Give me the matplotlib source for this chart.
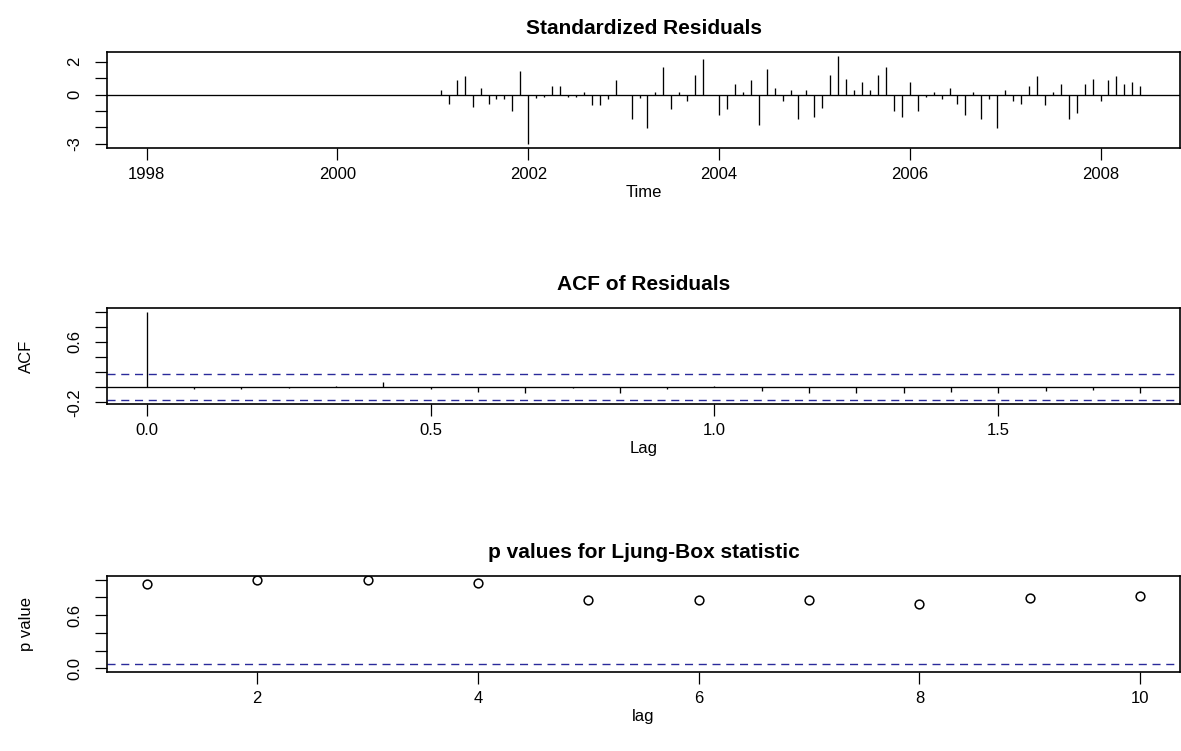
import numpy as np
import matplotlib
matplotlib.use('Agg')
import matplotlib.pyplot as plt

plt.rcParams['font.family'] = ['Liberation Sans', 'DejaVu Sans']

# monthly series Jan 1998 .. Jun 2008, residuals observed from Feb 2001
series_start = 1998.0
series_end = 2008 + 5 / 12
resid_start = 2001 + 1 / 12
resid = [0.26, -0.55, 0.87, 1.11, -0.77, 0.38, -0.55, -0.3, -0.3, -1.0,
         1.45, -3.05, -0.2, -0.16, 0.5, 0.5, -0.16, -0.16, 0.16, -0.67,
         -0.67, -0.3, 0.87, 0.0, -1.47, -0.2, -2.06, 0.16, 1.68, -0.9,
         0.16, -0.4, 1.21, 2.16, 0.0, -1.25, -0.9, 0.65, 0.16, 0.87,
         -1.84, 1.58, 0.38, -0.4, 0.26, -1.47, 0.26, -1.37, -0.8, 1.21,
         2.38, 0.97, 0.26, 0.75, 0.26, 1.21, 1.68, -1.0, -1.35, 0.75,
         -1.0, -0.16, 0.16, -0.3, 0.38, -0.55, -1.25, 0.16, -1.47, -0.3,
         -2.06, 0.26, -0.4, -0.55, 0.5, 1.11, -0.67, 0.16, 0.65, -1.47,
         -1.1, 0.65, 0.97, -0.4, 0.87, 1.11, 0.65, 0.75, 0.5]

# ACF of residuals, lags 0..21 months (in years)
acf_vals = [1.0, -0.03, -0.02, -0.01, 0.01, 0.07, -0.02, -0.06, -0.07, -0.01,
            -0.07, -0.03, 0.01, -0.05, -0.07, -0.07, -0.08, -0.06, -0.07,
            -0.05, -0.04, -0.07]
acf_clim = 0.175

# Ljung-Box p values, lags 1..10
lb_lag = [1, 2, 3, 4, 5, 6, 7, 8, 9, 10]
lb_p = [0.946, 0.994, 0.99, 0.96, 0.77, 0.77, 0.77, 0.725, 0.789, 0.815]

W, H = 1181, 751
fig = plt.figure(figsize=(W / 100, H / 100), dpi=100)

TICK_FS = 12
LAB_FS = 12
TITLE_FS = 15
BLUE = '#2a2a9a'
DASH = (0, (5.8, 4.1))

def ax_at(top, bottom, left=107, right=1180):
    return fig.add_axes([left / W, 1 - bottom / H, (right - left) / W, (bottom - top) / H])

def style(ax):
    for s in ax.spines.values():
        s.set_linewidth(1.2)
    ax.tick_params(length=8.9, width=0.9, labelsize=TICK_FS)
    ax.tick_params(axis='x', pad=5)
    ax.tick_params(axis='y', pad=9)
    for lab in ax.get_yticklabels():
        lab.set_rotation(90)
        lab.set_va('center')

def pad(a, b):
    r = b - a
    return a - 0.04 * r, b + 0.04 * r

lw = 0.95

# --- standardized residuals
ax1 = ax_at(52, 148)
t = resid_start + np.arange(len(resid)) / 12
ax1.vlines(t, 0, resid, color='black', lw=lw)
ax1.axhline(0, color='black', lw=lw)
ax1.set_xlim(*pad(series_start, series_end))
ax1.set_ylim(*pad(min(resid), max(resid)))
ax1.set_xticks([1998, 2000, 2002, 2004, 2006, 2008])
ax1.set_yticks([-3, -2, -1, 0, 1, 2])
ax1.set_yticklabels(['-3', '', '', '0', '', '2'])
ax1.set_title('Standardized Residuals', fontsize=TITLE_FS, fontweight='bold', pad=13)
ax1.set_xlabel('Time', fontsize=LAB_FS, labelpad=2)
style(ax1)

# --- ACF
ax2 = ax_at(308, 404)
lags = np.arange(len(acf_vals)) / 12
ax2.vlines(lags, 0, acf_vals, color='black', lw=lw)
ax2.axhline(0, color='black', lw=lw)
for c in (acf_clim, -acf_clim):
    ax2.axhline(c, color=BLUE, lw=1.0, ls=DASH)
ax2.set_xlim(*pad(0, lags[-1]))
ax2.set_ylim(*pad(min(min(acf_vals), -acf_clim), 1.0))
ax2.set_xticks([0.0, 0.5, 1.0, 1.5])
ax2.set_xticklabels(['0.0', '0.5', '1.0', '1.5'])
ax2.set_yticks([-0.2, 0.0, 0.2, 0.4, 0.6, 0.8, 1.0])
ax2.set_yticklabels(['-0.2', '', '', '', '0.6', '', ''])
ax2.set_title('ACF of Residuals', fontsize=TITLE_FS, fontweight='bold', pad=13)
ax2.set_xlabel('Lag', fontsize=LAB_FS, labelpad=2)
ax2.set_ylabel('ACF', fontsize=LAB_FS, labelpad=24)
style(ax2)

# --- Ljung-Box
ax3 = ax_at(576, 672)
ax3.plot(lb_lag, lb_p, 'o', mfc='none', mec='black', ms=6.3, mew=1.1)
ax3.axhline(0.05, color=BLUE, lw=1.0, ls=DASH)
ax3.set_xlim(*pad(1, 10))
ax3.set_ylim(*pad(0, 1))
ax3.set_xticks([2, 4, 6, 8, 10])
ax3.set_yticks([0.0, 0.2, 0.4, 0.6, 0.8, 1.0])
ax3.set_yticklabels(['0.0', '', '', '0.6', '', ''])
ax3.set_title('p values for Ljung-Box statistic', fontsize=TITLE_FS, fontweight='bold', pad=13)
ax3.set_xlabel('lag', fontsize=LAB_FS, labelpad=2)
ax3.set_ylabel('p value', fontsize=LAB_FS, labelpad=24)
style(ax3)

fig.savefig('out.png', dpi=100)
